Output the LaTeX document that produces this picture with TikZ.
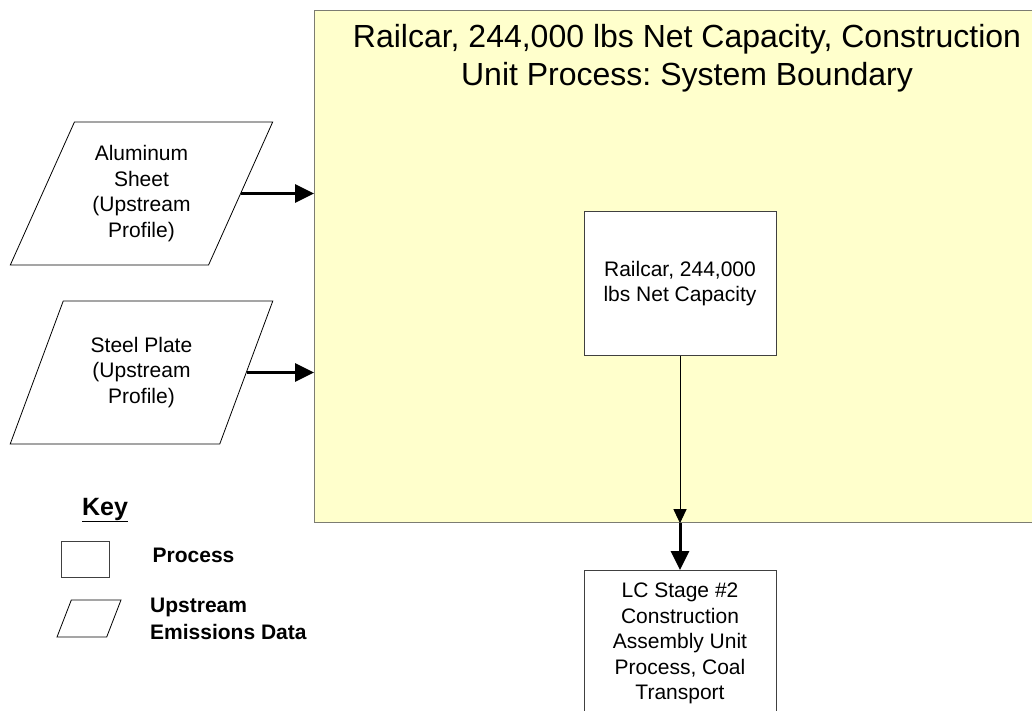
\documentclass[tikz,border=0pt]{standalone}
\usepackage{fontspec}
\setmainfont{Liberation Sans}
\frenchspacing
\usetikzlibrary{positioning, arrows.meta, calc, shapes.geometric}
\definecolor{boundary_fill}{HTML}{FFFFCC}
\definecolor{boundary_line}{HTML}{7C7C72}
\definecolor{box_line}{HTML}{404040}
\tikzstyle{feed} = [line width=3pt,-{Triangle[length=19pt,width=18pt]}]
\tikzstyle{flow} = [line width=1pt,-{Triangle[length=14pt,width=13pt]}]
\tikzstyle{process} = [rectangle, draw=box_line, fill=white, line width=1pt, minimum width=192, minimum height=143, align=center, inner sep=0pt]
\tikzstyle{upstream} = [trapezium, trapezium left angle=64, trapezium right angle=116, trapezium stretches=true, draw, fill=white, line width=0.8pt, minimum width=263, minimum height=143, align=center, inner sep=0pt]
\tikzstyle{keytext} = [inner sep=0pt, font=\fontsize{21}{27}\selectfont\bfseries]

\begin{document}
\begin{tikzpicture}[x=1pt, y=-1pt, font=\fontsize{21}{25.5}\selectfont]
  \useasboundingbox (0,0) rectangle (1032,711);

  % system boundary
  \node (boundary) [draw=boundary_line, fill=boundary_fill, line width=1.2pt, minimum width=726, minimum height=512, anchor=north west, inner sep=0pt] at (314,10) {};
  \node (title) [align=center, inner sep=0pt, font=\fontsize{32}{38}\selectfont] at (687,58) {Railcar, 244,000 lbs Net Capacity, Construction\\Unit Process: System Boundary};

  \node (alum) [upstream] at (141.5,193.5) {Aluminum\\Sheet\\(Upstream\\Profile)};
  \node (steel) [upstream] at (141.5,372.5) {Steel Plate\\(Upstream\\Profile)};
  \node (railcar) [process] at (680,283.5) {Railcar, 244,000\\lbs Net Capacity};
  \node (lcstage) [process, minimum height=146, anchor=north] at (680,570) {LC Stage \#2\\Construction\\Assembly Unit\\Process, Coal\\Transport};
  \coordinate (exit) at (railcar.south |- boundary.south);

  \draw [feed] (alum.east) -- (alum.east -| boundary.west);
  \draw [feed] (steel.east) -- (steel.east -| boundary.west);
  \draw [flow] (railcar.south) -- (exit);
  \draw [feed] (exit) -- (lcstage.north);

  % key
  \node (keytitle) [inner sep=0pt, font=\fontsize{25}{28}\selectfont\bfseries] at (105,510) {\underline{Key}};
  \node (keybox) [process, minimum width=48, minimum height=36] at (85,559) {};
  \node (keyproc) [keytext, right=43pt of keybox, yshift=4pt] {Process};
  \node (keyup) [upstream, inner sep=2pt, trapezium left angle=68, trapezium right angle=112, minimum width=64, minimum height=37] at (89,618.5) {};
  \node (keyuptext) [keytext, anchor=west, align=left] at (150,618.5) {Upstream\\Emissions Data};
\end{tikzpicture}
\end{document}
